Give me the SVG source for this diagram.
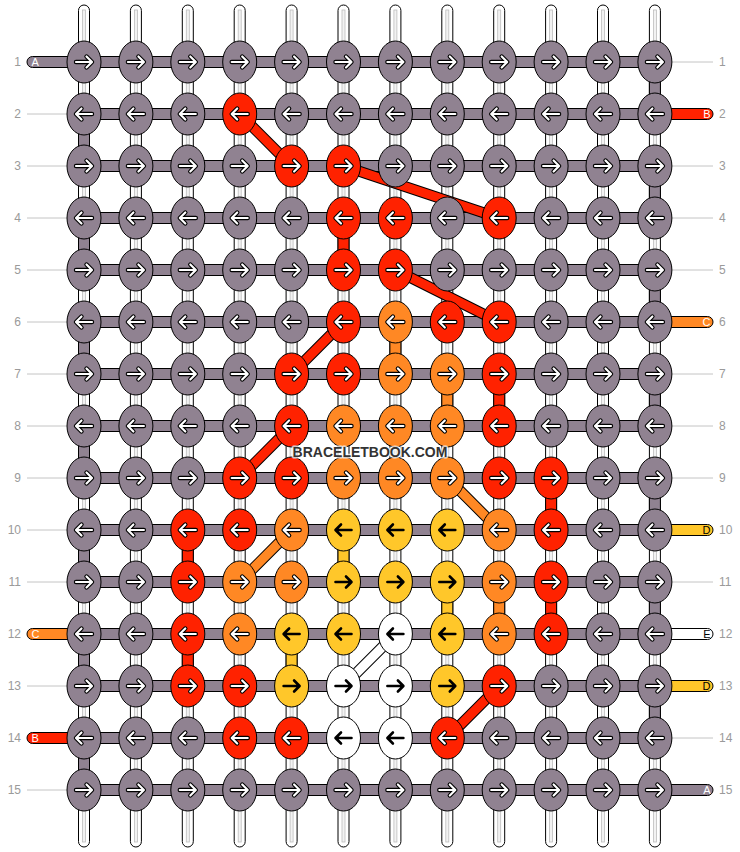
<svg xmlns="http://www.w3.org/2000/svg" xmlns:xlink="http://www.w3.org/1999/xlink" width="740" height="852" viewBox="0 0 740 852">
<style>
.wp{fill:#fff;stroke:#000;stroke-width:1}
.ws{fill:#f2f2f2;stroke:#bdbdbd;stroke-width:0.8}
.bar{stroke:#000;stroke-width:1}
.g{fill:#908291}.r{fill:#ff2200}.o{fill:#ff8824}.y{fill:#ffc72a}.w{fill:#fff}
.dl{stroke:#000;stroke-width:11;fill:none}
.thin{stroke:#c4c4c4;stroke-width:1}
.num{font-family:"Liberation Sans",Arial,sans-serif;font-size:12px;fill:#9a9a9a}
.lab{font-family:"Liberation Sans",Arial,sans-serif;font-size:11px}
.wm{font-family:"Liberation Sans",Arial,sans-serif;font-size:14px;font-weight:bold;fill:#333;stroke:#fff;stroke-opacity:0.75;stroke-width:3;paint-order:stroke;stroke-linejoin:round}
</style>
<defs>
<path id="ap" d="M-8,0H7.5M2.5,-5.5L8,0L2.5,5.5" fill="none" stroke-linejoin="round" stroke-linecap="round"/>
<g id="AWR"><use href="#ap" stroke="#000" stroke-width="4.4"/><use href="#ap" stroke="#fff" stroke-width="2.2"/></g>
<g id="ABR"><use href="#ap" stroke="#000" stroke-width="2.6"/></g>
<g id="gR"><ellipse class="bar g" rx="17" ry="21"/><use href="#AWR"/></g>
<g id="gL"><ellipse class="bar g" rx="17" ry="21"/><use href="#AWR" transform="scale(-1,1)"/></g>
<g id="rR"><ellipse class="bar r" rx="17" ry="21"/><use href="#AWR"/></g>
<g id="rL"><ellipse class="bar r" rx="17" ry="21"/><use href="#AWR" transform="scale(-1,1)"/></g>
<g id="oR"><ellipse class="bar o" rx="17" ry="21"/><use href="#AWR"/></g>
<g id="oL"><ellipse class="bar o" rx="17" ry="21"/><use href="#AWR" transform="scale(-1,1)"/></g>
<g id="yR"><ellipse class="bar y" rx="17" ry="21"/><use href="#ABR"/></g>
<g id="yL"><ellipse class="bar y" rx="17" ry="21"/><use href="#ABR" transform="scale(-1,1)"/></g>
<g id="wR"><ellipse class="bar w" rx="17" ry="21"/><use href="#ABR"/></g>
<g id="wL"><ellipse class="bar w" rx="17" ry="21"/><use href="#ABR" transform="scale(-1,1)"/></g>
<g id="warp"><rect class="wp" x="-5.5" y="5" width="11" height="842" rx="5.5"/><rect class="ws" x="-1.5" y="10" width="3" height="832"/></g>
<rect id="weft" class="bar g" x="84" y="-5.5" width="571" height="11"/>
<rect id="vc" x="-5.5" y="0" width="11" height="52"/>
</defs>
<rect width="740" height="852" fill="#fff"/>
<g id="warps">
<use href="#warp" x="84"/><use href="#warp" x="135.9"/><use href="#warp" x="187.8"/><use href="#warp" x="239.7"/><use href="#warp" x="291.6"/><use href="#warp" x="343.5"/><use href="#warp" x="395.4"/><use href="#warp" x="447.3"/><use href="#warp" x="499.2"/><use href="#warp" x="551.1"/><use href="#warp" x="603"/><use href="#warp" x="654.9"/>
</g>
<g id="row-lines">
<line class="thin" x1="27" x2="68" y1="114" y2="114"/><line class="thin" x1="27" x2="68" y1="166" y2="166"/><line class="thin" x1="27" x2="68" y1="218" y2="218"/><line class="thin" x1="27" x2="68" y1="270" y2="270"/><line class="thin" x1="27" x2="68" y1="322" y2="322"/><line class="thin" x1="27" x2="68" y1="374" y2="374"/><line class="thin" x1="27" x2="68" y1="426" y2="426"/><line class="thin" x1="27" x2="68" y1="478" y2="478"/><line class="thin" x1="27" x2="68" y1="530" y2="530"/><line class="thin" x1="27" x2="68" y1="582" y2="582"/><line class="thin" x1="27" x2="68" y1="686" y2="686"/><line class="thin" x1="27" x2="68" y1="790" y2="790"/>
<line class="thin" x1="671" x2="713" y1="62" y2="62"/><line class="thin" x1="671" x2="713" y1="166" y2="166"/><line class="thin" x1="671" x2="713" y1="218" y2="218"/><line class="thin" x1="671" x2="713" y1="270" y2="270"/><line class="thin" x1="671" x2="713" y1="374" y2="374"/><line class="thin" x1="671" x2="713" y1="426" y2="426"/><line class="thin" x1="671" x2="713" y1="478" y2="478"/><line class="thin" x1="671" x2="713" y1="582" y2="582"/><line class="thin" x1="671" x2="713" y1="738" y2="738"/>
</g>
<g id="connectors">
<g id="wefts">
<use href="#weft" y="62"/><use href="#weft" y="114"/><use href="#weft" y="166"/><use href="#weft" y="218"/><use href="#weft" y="270"/><use href="#weft" y="322"/><use href="#weft" y="374"/><use href="#weft" y="426"/><use href="#weft" y="478"/><use href="#weft" y="530"/><use href="#weft" y="582"/><use href="#weft" y="634"/><use href="#weft" y="686"/><use href="#weft" y="738"/><use href="#weft" y="790"/>
</g>
<g id="ends">
<rect class="bar g" x="27" y="56.5" width="60" height="11" rx="5.5"/>
<rect class="bar o" x="27" y="628.5" width="60" height="11" rx="5.5"/>
<rect class="bar r" x="27" y="732.5" width="60" height="11" rx="5.5"/>
<rect class="bar r" x="652" y="108.5" width="61" height="11" rx="5.5"/>
<rect class="bar o" x="652" y="316.5" width="61" height="11" rx="5.5"/>
<rect class="bar y" x="652" y="524.5" width="61" height="11" rx="5.5"/>
<rect class="bar w" x="652" y="628.5" width="61" height="11" rx="5.5"/>
<rect class="bar y" x="652" y="680.5" width="61" height="11" rx="5.5"/>
<rect class="bar g" x="652" y="784.5" width="61" height="11" rx="5.5"/>
</g>
<g id="verticals" class="bar">
<use href="#vc" class="g" x="84" y="114"/><use href="#vc" class="g" x="84" y="218"/><use href="#vc" class="g" x="84" y="322"/><use href="#vc" class="g" x="84" y="426"/><use href="#vc" class="g" x="84" y="530"/><use href="#vc" class="g" x="84" y="634"/><use href="#vc" class="g" x="84" y="738"/>
<use href="#vc" class="g" x="654.9" y="62"/><use href="#vc" class="g" x="654.9" y="166"/><use href="#vc" class="g" x="654.9" y="270"/><use href="#vc" class="g" x="654.9" y="374"/><use href="#vc" class="g" x="654.9" y="478"/><use href="#vc" class="g" x="654.9" y="582"/><use href="#vc" class="g" x="654.9" y="686"/>
<use href="#vc" class="r" x="343.5" y="218"/>
<use href="#vc" class="o" x="395.4" y="322"/>
<use href="#vc" class="o" x="447.3" y="374"/>
<use href="#vc" class="r" x="499.2" y="374"/>
<use href="#vc" class="r" x="551.1" y="478"/>
<use href="#vc" class="r" x="187.8" y="530"/>
<use href="#vc" class="y" x="343.5" y="530"/>
<use href="#vc" class="y" x="447.3" y="582"/>
<use href="#vc" class="o" x="499.2" y="582"/>
<use href="#vc" class="r" x="551.1" y="582"/>
<use href="#vc" class="r" x="187.8" y="634"/>
<use href="#vc" class="y" x="291.6" y="634"/>
</g>
<g id="diagonals">
<path class="dl" d="M239.7,114L291.6,166M343.5,166L499.2,218M395.4,270L499.2,322M343.5,322L291.6,374M291.6,426L239.7,478M447.3,478L499.2,530M291.6,530L239.7,582M395.4,634L343.5,686M499.2,686L447.3,738"/>
<path fill="none" stroke="#ff2200" stroke-width="9" d="M239.7,114L291.6,166M343.5,166L499.2,218M395.4,270L499.2,322M343.5,322L291.6,374M291.6,426L239.7,478M499.2,686L447.3,738"/>
<path fill="none" stroke="#ff8824" stroke-width="9" d="M447.3,478L499.2,530M291.6,530L239.7,582"/>
<path fill="none" stroke="#fff" stroke-width="9" d="M395.4,634L343.5,686"/>
</g>
</g>
<g id="knots">
<g id="n1-1"><use href="#gR" x="84" y="62"/></g><g id="n1-2"><use href="#gR" x="135.9" y="62"/></g><g id="n1-3"><use href="#gR" x="187.8" y="62"/></g><g id="n1-4"><use href="#gR" x="239.7" y="62"/></g><g id="n1-5"><use href="#gR" x="291.6" y="62"/></g><g id="n1-6"><use href="#gR" x="343.5" y="62"/></g><g id="n1-7"><use href="#gR" x="395.4" y="62"/></g><g id="n1-8"><use href="#gR" x="447.3" y="62"/></g><g id="n1-9"><use href="#gR" x="499.2" y="62"/></g><g id="n1-10"><use href="#gR" x="551.1" y="62"/></g><g id="n1-11"><use href="#gR" x="603" y="62"/></g><g id="n1-12"><use href="#gR" x="654.9" y="62"/></g>
<g id="n2-1"><use href="#gL" x="84" y="114"/></g><g id="n2-2"><use href="#gL" x="135.9" y="114"/></g><g id="n2-3"><use href="#gL" x="187.8" y="114"/></g><g id="n2-4"><use href="#rL" x="239.7" y="114"/></g><g id="n2-5"><use href="#gL" x="291.6" y="114"/></g><g id="n2-6"><use href="#gL" x="343.5" y="114"/></g><g id="n2-7"><use href="#gL" x="395.4" y="114"/></g><g id="n2-8"><use href="#gL" x="447.3" y="114"/></g><g id="n2-9"><use href="#gL" x="499.2" y="114"/></g><g id="n2-10"><use href="#gL" x="551.1" y="114"/></g><g id="n2-11"><use href="#gL" x="603" y="114"/></g><g id="n2-12"><use href="#gL" x="654.9" y="114"/></g>
<g id="n3-1"><use href="#gR" x="84" y="166"/></g><g id="n3-2"><use href="#gR" x="135.9" y="166"/></g><g id="n3-3"><use href="#gR" x="187.8" y="166"/></g><g id="n3-4"><use href="#gR" x="239.7" y="166"/></g><g id="n3-5"><use href="#rR" x="291.6" y="166"/></g><g id="n3-6"><use href="#rR" x="343.5" y="166"/></g><g id="n3-7"><use href="#gR" x="395.4" y="166"/></g><g id="n3-8"><use href="#gR" x="447.3" y="166"/></g><g id="n3-9"><use href="#gR" x="499.2" y="166"/></g><g id="n3-10"><use href="#gR" x="551.1" y="166"/></g><g id="n3-11"><use href="#gR" x="603" y="166"/></g><g id="n3-12"><use href="#gR" x="654.9" y="166"/></g>
<g id="n4-1"><use href="#gL" x="84" y="218"/></g><g id="n4-2"><use href="#gL" x="135.9" y="218"/></g><g id="n4-3"><use href="#gL" x="187.8" y="218"/></g><g id="n4-4"><use href="#gL" x="239.7" y="218"/></g><g id="n4-5"><use href="#gL" x="291.6" y="218"/></g><g id="n4-6"><use href="#rL" x="343.5" y="218"/></g><g id="n4-7"><use href="#rL" x="395.4" y="218"/></g><g id="n4-8"><use href="#gL" x="447.3" y="218"/></g><g id="n4-9"><use href="#rL" x="499.2" y="218"/></g><g id="n4-10"><use href="#gL" x="551.1" y="218"/></g><g id="n4-11"><use href="#gL" x="603" y="218"/></g><g id="n4-12"><use href="#gL" x="654.9" y="218"/></g>
<g id="n5-1"><use href="#gR" x="84" y="270"/></g><g id="n5-2"><use href="#gR" x="135.9" y="270"/></g><g id="n5-3"><use href="#gR" x="187.8" y="270"/></g><g id="n5-4"><use href="#gR" x="239.7" y="270"/></g><g id="n5-5"><use href="#gR" x="291.6" y="270"/></g><g id="n5-6"><use href="#rR" x="343.5" y="270"/></g><g id="n5-7"><use href="#rR" x="395.4" y="270"/></g><g id="n5-8"><use href="#gR" x="447.3" y="270"/></g><g id="n5-9"><use href="#gR" x="499.2" y="270"/></g><g id="n5-10"><use href="#gR" x="551.1" y="270"/></g><g id="n5-11"><use href="#gR" x="603" y="270"/></g><g id="n5-12"><use href="#gR" x="654.9" y="270"/></g>
<g id="n6-1"><use href="#gL" x="84" y="322"/></g><g id="n6-2"><use href="#gL" x="135.9" y="322"/></g><g id="n6-3"><use href="#gL" x="187.8" y="322"/></g><g id="n6-4"><use href="#gL" x="239.7" y="322"/></g><g id="n6-5"><use href="#gL" x="291.6" y="322"/></g><g id="n6-6"><use href="#rL" x="343.5" y="322"/></g><g id="n6-7"><use href="#oL" x="395.4" y="322"/></g><g id="n6-8"><use href="#rL" x="447.3" y="322"/></g><g id="n6-9"><use href="#rL" x="499.2" y="322"/></g><g id="n6-10"><use href="#gL" x="551.1" y="322"/></g><g id="n6-11"><use href="#gL" x="603" y="322"/></g><g id="n6-12"><use href="#gL" x="654.9" y="322"/></g>
<g id="n7-1"><use href="#gR" x="84" y="374"/></g><g id="n7-2"><use href="#gR" x="135.9" y="374"/></g><g id="n7-3"><use href="#gR" x="187.8" y="374"/></g><g id="n7-4"><use href="#gR" x="239.7" y="374"/></g><g id="n7-5"><use href="#rR" x="291.6" y="374"/></g><g id="n7-6"><use href="#rR" x="343.5" y="374"/></g><g id="n7-7"><use href="#oR" x="395.4" y="374"/></g><g id="n7-8"><use href="#oR" x="447.3" y="374"/></g><g id="n7-9"><use href="#rR" x="499.2" y="374"/></g><g id="n7-10"><use href="#gR" x="551.1" y="374"/></g><g id="n7-11"><use href="#gR" x="603" y="374"/></g><g id="n7-12"><use href="#gR" x="654.9" y="374"/></g>
<g id="n8-1"><use href="#gL" x="84" y="426"/></g><g id="n8-2"><use href="#gL" x="135.9" y="426"/></g><g id="n8-3"><use href="#gL" x="187.8" y="426"/></g><g id="n8-4"><use href="#gL" x="239.7" y="426"/></g><g id="n8-5"><use href="#rL" x="291.6" y="426"/></g><g id="n8-6"><use href="#oL" x="343.5" y="426"/></g><g id="n8-7"><use href="#oL" x="395.4" y="426"/></g><g id="n8-8"><use href="#oL" x="447.3" y="426"/></g><g id="n8-9"><use href="#rL" x="499.2" y="426"/></g><g id="n8-10"><use href="#gL" x="551.1" y="426"/></g><g id="n8-11"><use href="#gL" x="603" y="426"/></g><g id="n8-12"><use href="#gL" x="654.9" y="426"/></g>
<g id="n9-1"><use href="#gR" x="84" y="478"/></g><g id="n9-2"><use href="#gR" x="135.9" y="478"/></g><g id="n9-3"><use href="#gR" x="187.8" y="478"/></g><g id="n9-4"><use href="#rR" x="239.7" y="478"/></g><g id="n9-5"><use href="#rR" x="291.6" y="478"/></g><g id="n9-6"><use href="#oR" x="343.5" y="478"/></g><g id="n9-7"><use href="#oR" x="395.4" y="478"/></g><g id="n9-8"><use href="#oR" x="447.3" y="478"/></g><g id="n9-9"><use href="#rR" x="499.2" y="478"/></g><g id="n9-10"><use href="#rR" x="551.1" y="478"/></g><g id="n9-11"><use href="#gR" x="603" y="478"/></g><g id="n9-12"><use href="#gR" x="654.9" y="478"/></g>
<g id="n10-1"><use href="#gL" x="84" y="530"/></g><g id="n10-2"><use href="#gL" x="135.9" y="530"/></g><g id="n10-3"><use href="#rL" x="187.8" y="530"/></g><g id="n10-4"><use href="#rL" x="239.7" y="530"/></g><g id="n10-5"><use href="#oL" x="291.6" y="530"/></g><g id="n10-6"><use href="#yL" x="343.5" y="530"/></g><g id="n10-7"><use href="#yL" x="395.4" y="530"/></g><g id="n10-8"><use href="#yL" x="447.3" y="530"/></g><g id="n10-9"><use href="#oL" x="499.2" y="530"/></g><g id="n10-10"><use href="#rL" x="551.1" y="530"/></g><g id="n10-11"><use href="#gL" x="603" y="530"/></g><g id="n10-12"><use href="#gL" x="654.9" y="530"/></g>
<g id="n11-1"><use href="#gR" x="84" y="582"/></g><g id="n11-2"><use href="#gR" x="135.9" y="582"/></g><g id="n11-3"><use href="#rR" x="187.8" y="582"/></g><g id="n11-4"><use href="#oR" x="239.7" y="582"/></g><g id="n11-5"><use href="#oR" x="291.6" y="582"/></g><g id="n11-6"><use href="#yR" x="343.5" y="582"/></g><g id="n11-7"><use href="#yR" x="395.4" y="582"/></g><g id="n11-8"><use href="#yR" x="447.3" y="582"/></g><g id="n11-9"><use href="#oR" x="499.2" y="582"/></g><g id="n11-10"><use href="#rR" x="551.1" y="582"/></g><g id="n11-11"><use href="#gR" x="603" y="582"/></g><g id="n11-12"><use href="#gR" x="654.9" y="582"/></g>
<g id="n12-1"><use href="#gL" x="84" y="634"/></g><g id="n12-2"><use href="#gL" x="135.9" y="634"/></g><g id="n12-3"><use href="#rL" x="187.8" y="634"/></g><g id="n12-4"><use href="#oL" x="239.7" y="634"/></g><g id="n12-5"><use href="#yL" x="291.6" y="634"/></g><g id="n12-6"><use href="#yL" x="343.5" y="634"/></g><g id="n12-7"><use href="#wL" x="395.4" y="634"/></g><g id="n12-8"><use href="#yL" x="447.3" y="634"/></g><g id="n12-9"><use href="#oL" x="499.2" y="634"/></g><g id="n12-10"><use href="#rL" x="551.1" y="634"/></g><g id="n12-11"><use href="#gL" x="603" y="634"/></g><g id="n12-12"><use href="#gL" x="654.9" y="634"/></g>
<g id="n13-1"><use href="#gR" x="84" y="686"/></g><g id="n13-2"><use href="#gR" x="135.9" y="686"/></g><g id="n13-3"><use href="#rR" x="187.8" y="686"/></g><g id="n13-4"><use href="#rR" x="239.7" y="686"/></g><g id="n13-5"><use href="#yR" x="291.6" y="686"/></g><g id="n13-6"><use href="#wR" x="343.5" y="686"/></g><g id="n13-7"><use href="#wR" x="395.4" y="686"/></g><g id="n13-8"><use href="#yR" x="447.3" y="686"/></g><g id="n13-9"><use href="#rR" x="499.2" y="686"/></g><g id="n13-10"><use href="#gR" x="551.1" y="686"/></g><g id="n13-11"><use href="#gR" x="603" y="686"/></g><g id="n13-12"><use href="#gR" x="654.9" y="686"/></g>
<g id="n14-1"><use href="#gL" x="84" y="738"/></g><g id="n14-2"><use href="#gL" x="135.9" y="738"/></g><g id="n14-3"><use href="#gL" x="187.8" y="738"/></g><g id="n14-4"><use href="#rL" x="239.7" y="738"/></g><g id="n14-5"><use href="#rL" x="291.6" y="738"/></g><g id="n14-6"><use href="#wL" x="343.5" y="738"/></g><g id="n14-7"><use href="#wL" x="395.4" y="738"/></g><g id="n14-8"><use href="#rL" x="447.3" y="738"/></g><g id="n14-9"><use href="#gL" x="499.2" y="738"/></g><g id="n14-10"><use href="#gL" x="551.1" y="738"/></g><g id="n14-11"><use href="#gL" x="603" y="738"/></g><g id="n14-12"><use href="#gL" x="654.9" y="738"/></g>
<g id="n15-1"><use href="#gR" x="84" y="790"/></g><g id="n15-2"><use href="#gR" x="135.9" y="790"/></g><g id="n15-3"><use href="#gR" x="187.8" y="790"/></g><g id="n15-4"><use href="#gR" x="239.7" y="790"/></g><g id="n15-5"><use href="#gR" x="291.6" y="790"/></g><g id="n15-6"><use href="#gR" x="343.5" y="790"/></g><g id="n15-7"><use href="#gR" x="395.4" y="790"/></g><g id="n15-8"><use href="#gR" x="447.3" y="790"/></g><g id="n15-9"><use href="#gR" x="499.2" y="790"/></g><g id="n15-10"><use href="#gR" x="551.1" y="790"/></g><g id="n15-11"><use href="#gR" x="603" y="790"/></g><g id="n15-12"><use href="#gR" x="654.9" y="790"/></g>
</g>
<g id="end-labels" class="lab">
<text x="31.5" y="66" fill="#fff">A</text>
<text x="31.5" y="638" fill="#fff">C</text>
<text x="31.5" y="742" fill="#fff">B</text>
<text x="710.5" y="118" fill="#fff" text-anchor="end">B</text>
<text x="710.5" y="326" fill="#fff" text-anchor="end">C</text>
<text x="710.5" y="534" fill="#000" text-anchor="end">D</text>
<text x="710.5" y="638" fill="#000" text-anchor="end">E</text>
<text x="710.5" y="690" fill="#000" text-anchor="end">D</text>
<text x="710.5" y="794" fill="#fff" text-anchor="end">A</text>
</g>
<g id="row-numbers-left" class="num" text-anchor="end">
<text x="21" y="66">1</text><text x="21" y="118">2</text><text x="21" y="170">3</text><text x="21" y="222">4</text><text x="21" y="274">5</text><text x="21" y="326">6</text><text x="21" y="378">7</text><text x="21" y="430">8</text><text x="21" y="482">9</text><text x="21" y="534">10</text><text x="21" y="586">11</text><text x="21" y="638">12</text><text x="21" y="690">13</text><text x="21" y="742">14</text><text x="21" y="794">15</text>
</g>
<g id="row-numbers-right" class="num">
<text x="719" y="66">1</text><text x="719" y="118">2</text><text x="719" y="170">3</text><text x="719" y="222">4</text><text x="719" y="274">5</text><text x="719" y="326">6</text><text x="719" y="378">7</text><text x="719" y="430">8</text><text x="719" y="482">9</text><text x="719" y="534">10</text><text x="719" y="586">11</text><text x="719" y="638">12</text><text x="719" y="690">13</text><text x="719" y="742">14</text><text x="719" y="794">15</text>
</g>
<text class="wm" x="370" y="457" text-anchor="middle">BRACELETBOOK.COM</text>
</svg>
